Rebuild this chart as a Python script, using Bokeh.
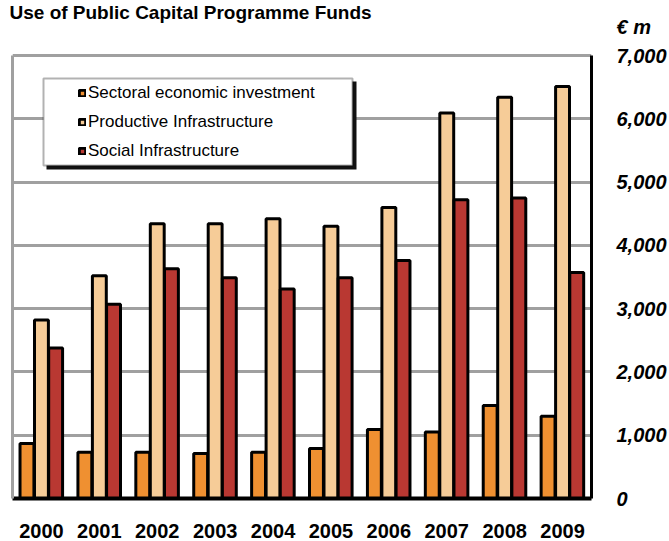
from bokeh.plotting import figure
from bokeh.models import (FactorRange, Range1d, LinearAxis, FixedTicker, Legend,
                          LegendItem, Title, BoxAnnotation, ColumnDataSource)
from bokeh.transform import dodge
from bokeh.embed import file_html
from bokeh.resources import INLINE

# ---- data ----
years = ["2000", "2001", "2002", "2003", "2004", "2005", "2006", "2007", "2008", "2009"]
sectoral = [870, 730, 730, 710, 730, 790, 1090, 1050, 1470, 1300]
productive = [2820, 3520, 4340, 4340, 4420, 4300, 4600, 6090, 6340, 6510]
social = [2380, 3070, 3630, 3490, 3310, 3490, 3760, 4720, 4750, 3570]
series_names = ["Sectoral economic investment", "Productive Infrastructure", "Social Infrastructure"]
series_colors = ["#EF9031", "#F6CC98", "#B93832"]
y_ticks = [0, 1000, 2000, 3000, 4000, 5000, 6000, 7000]
y_tick_labels = ["0", "1,000", "2,000", "3,000", "4,000", "5,000", "6,000", "7,000"]
y_max = 7000
title_text = "Use of Public Capital Programme Funds"
unit_text = "€ m"

FONT = "Liberation Sans"

# layout (pixels)
W, H = 669, 541
FRAME_TOP, GRID_TOP, FRAME_BOTTOM = 24, 55, 498
UNIT_Y = 26
px_per_unit = (FRAME_BOTTOM - GRID_TOP) / y_max
y_end = (FRAME_BOTTOM - FRAME_TOP) / px_per_unit
unit_tick = (FRAME_BOTTOM - UNIT_Y) / px_per_unit

src = ColumnDataSource(dict(year=years, sectoral=sectoral, productive=productive, social=social))

p = figure(width=W, height=H,
           x_range=FactorRange(*years, range_padding=0),
           y_range=Range1d(0, y_end),
           output_backend="svg", toolbar_location=None,
           y_axis_location="right", title=None,
           min_border_left=12, min_border_right=73, min_border_top=FRAME_TOP,
           min_border_bottom=H - FRAME_BOTTOM)
p.outline_line_color = None
p.background_fill_color = "white"
p.border_fill_color = "white"

# grid
p.xgrid.grid_line_color = None
p.ygrid.ticker = FixedTicker(ticks=y_ticks)
p.ygrid.grid_line_color = "#A0A0A0"
p.ygrid.grid_line_width = 3

# right y axis (unit text sits above the top tick)
ya = p.yaxis[0]
ya.ticker = FixedTicker(ticks=y_ticks + [unit_tick])
overrides = {t: l for t, l in zip(y_ticks, y_tick_labels)}
overrides[unit_tick] = unit_text
ya.major_label_overrides = overrides
ya.bounds = (0, y_max)
ya.axis_line_color = "black"
ya.axis_line_width = 3
ya.major_tick_line_color = None
ya.minor_tick_line_color = None
ya.major_label_standoff = 19
ya.major_label_text_font = FONT
ya.major_label_text_font_size = "20px"
ya.major_label_text_font_style = "bold italic"
ya.major_label_text_color = "black"

# left edge line
la = LinearAxis(ticker=FixedTicker(ticks=[]), axis_line_color="#A0A0A0", axis_line_width=3,
                major_tick_line_color=None, minor_tick_line_color=None, bounds=(0, y_max))
p.add_layout(la, "left")

# x axis
xa = p.xaxis[0]
xa.axis_line_color = "black"
xa.axis_line_width = 4
xa.major_tick_line_color = None
xa.minor_tick_line_color = None
xa.major_label_standoff = 19
xa.major_label_text_font = FONT
xa.major_label_text_font_size = "20px"
xa.major_label_text_font_style = "bold"
xa.major_label_text_color = "black"

# bars
offsets = [-0.25, 0.0, 0.245]
fields = ["sectoral", "productive", "social"]
renderers = []
for f, off, c in zip(fields, offsets, series_colors):
    r = p.vbar(x=dodge("year", off, range=p.x_range), top=f, width=0.24, bottom=0,
               source=src, fill_color=c, line_color="black", line_width=3)
    renderers.append(r)

# legend box with shadow
shadow = BoxAnnotation(left=34, right=344, top=417, bottom=329,
                       left_units="screen", right_units="screen", top_units="screen", bottom_units="screen",
                       fill_color="#111111", fill_alpha=1.0, line_color=None)
box = BoxAnnotation(left=31, right=340, top=420, bottom=333,
                    left_units="screen", right_units="screen", top_units="screen", bottom_units="screen",
                    fill_color="white", fill_alpha=1.0, line_color="black", line_width=2)
p.add_layout(shadow)
p.add_layout(box)

legend = Legend(items=[LegendItem(label=n, renderers=[r]) for n, r in zip(series_names, renderers)],
                location=(66, 337), orientation="vertical",
                label_text_font=FONT, label_text_font_size="17px", label_text_color="black",
                glyph_width=8, glyph_height=8, label_standoff=2, spacing=9, padding=4,
                label_height=20, background_fill_alpha=0, border_line_color=None, margin=0)
p.add_layout(legend, "center")

# main title
p.add_layout(Title(text=title_text, align="left", offset=-3, standoff=0, vertical_align="top",
                   text_font=FONT, text_font_size="19px", text_font_style="bold",
                   text_color="black"), "above")

open("out.html", "w").write(file_html(p, INLINE))
